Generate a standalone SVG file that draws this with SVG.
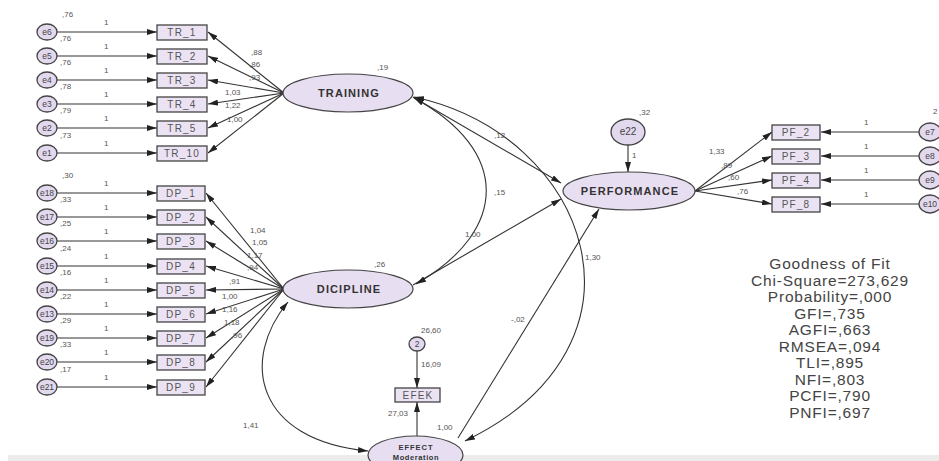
<svg xmlns="http://www.w3.org/2000/svg" width="939" height="461" viewBox="0 0 939 461">
<defs>
<marker id="ah" viewBox="0 0 10 6" refX="10" refY="3" markerWidth="10" markerHeight="6" markerUnits="userSpaceOnUse" orient="auto-start-reverse"><path d="M0,0 L10,3 L0,6 z" fill="#222"/></marker>
</defs>
<style>
.lat{fill:#e8def2;stroke:#444;stroke-width:1.2}
.box{fill:#ebe3f3;stroke:#444;stroke-width:1.3}
.err{fill:#e2d9ee;stroke:#444;stroke-width:1.3}
.ln{stroke:#333;stroke-width:1.1;fill:none;marker-end:url(#ah)}
.dl{stroke:#333;stroke-width:1.1;fill:none;marker-end:url(#ah);marker-start:url(#ah)}
.lt{font-family:"Liberation Sans",Arial,sans-serif;font-weight:bold;font-size:11px;fill:#333;letter-spacing:1.1px;text-anchor:middle}
.bt{font-family:"Liberation Sans",Arial,sans-serif;font-size:10px;fill:#555;letter-spacing:1.2px;text-anchor:middle}
.et{font-family:"Liberation Sans",Arial,sans-serif;font-size:8.5px;fill:#444;text-anchor:middle}
.n{font-family:"Liberation Sans",Arial,sans-serif;font-size:8px;fill:#555}
.g{font-family:"Liberation Sans",Arial,sans-serif;font-size:15.5px;fill:#444;letter-spacing:0.8px;text-anchor:middle}
</style>
<rect width="939" height="461" fill="#fff"/>
<rect x="8" y="455" width="931" height="6" fill="#ececec"/>

<g id="connectors">
<path class="ln" d="M57,32 H157"/>
<path class="ln" d="M57,56 H157"/>
<path class="ln" d="M57,80 H157"/>
<path class="ln" d="M57,104 H157"/>
<path class="ln" d="M57,128 H157"/>
<path class="ln" d="M57,153 H157"/>
<path class="ln" d="M284,93 L208,32"/>
<path class="ln" d="M284,93 L208,56"/>
<path class="ln" d="M284,93 L208,80"/>
<path class="ln" d="M284,93 L208,104"/>
<path class="ln" d="M284,93 L208,128"/>
<path class="ln" d="M284,93 L208,153"/>
<path class="ln" d="M57,193 H157"/>
<path class="ln" d="M57,217 H157"/>
<path class="ln" d="M57,241 H157"/>
<path class="ln" d="M57,266 H157"/>
<path class="ln" d="M57,290 H157"/>
<path class="ln" d="M57,314 H157"/>
<path class="ln" d="M57,338 H157"/>
<path class="ln" d="M57,362 H157"/>
<path class="ln" d="M57,387 H157"/>
<path class="ln" d="M284,289 L206,193"/>
<path class="ln" d="M284,289 L206,217"/>
<path class="ln" d="M284,289 L206,241"/>
<path class="ln" d="M284,289 L206,266"/>
<path class="ln" d="M284,289 L206,290"/>
<path class="ln" d="M284,289 L206,314"/>
<path class="ln" d="M284,289 L206,338"/>
<path class="ln" d="M284,289 L206,362"/>
<path class="ln" d="M284,289 L206,387"/>
<path class="ln" d="M413,97 L561,183"/>
<path class="ln" d="M413,285 L561,199"/>
<path class="ln" d="M458,438 L599,209"/>
<path class="dl" d="M414,98 C510,150 510,230 416,284"/>
<path class="dl" d="M414,97 C590,135 665,345 465,441"/>
<path class="dl" d="M288,302 C240,360 255,440 368,451"/>
<path class="ln" d="M628,145 L628,172"/>
<path class="ln" d="M417,351 L417,388"/>
<path class="ln" d="M417,436 L417,402"/>
<path class="ln" d="M695,191 L772,132"/>
<path class="ln" d="M695,191 L772,156"/>
<path class="ln" d="M695,191 L772,180"/>
<path class="ln" d="M695,191 L772,204"/>
<path class="ln" d="M919,132 H821"/>
<path class="ln" d="M919,156 H821"/>
<path class="ln" d="M919,180 H821"/>
<path class="ln" d="M919,204 H821"/>
</g>

<g id="path-labels">
<text class="n" x="104" y="25">1</text>
<text class="n" x="104" y="49">1</text>
<text class="n" x="104" y="73">1</text>
<text class="n" x="104" y="97">1</text>
<text class="n" x="104" y="121">1</text>
<text class="n" x="104" y="146">1</text>
<text class="n" x="104" y="186">1</text>
<text class="n" x="104" y="210">1</text>
<text class="n" x="104" y="234">1</text>
<text class="n" x="104" y="259">1</text>
<text class="n" x="104" y="283">1</text>
<text class="n" x="104" y="307">1</text>
<text class="n" x="104" y="331">1</text>
<text class="n" x="104" y="355">1</text>
<text class="n" x="104" y="380">1</text>
<text class="n" x="62" y="17">,76</text>
<text class="n" x="60" y="41">,76</text>
<text class="n" x="60" y="65">,76</text>
<text class="n" x="60" y="89">,78</text>
<text class="n" x="60" y="113">,79</text>
<text class="n" x="60" y="138">,73</text>
<text class="n" x="62" y="178">,30</text>
<text class="n" x="60" y="202">,33</text>
<text class="n" x="60" y="226">,25</text>
<text class="n" x="60" y="251">,24</text>
<text class="n" x="60" y="275">,16</text>
<text class="n" x="60" y="299">,22</text>
<text class="n" x="60" y="323">,29</text>
<text class="n" x="60" y="347">,33</text>
<text class="n" x="60" y="372">,17</text>
<text class="n" x="251" y="55">,88</text>
<text class="n" x="249" y="67">,86</text>
<text class="n" x="249" y="80">,93</text>
<text class="n" x="225" y="95">1,03</text>
<text class="n" x="225" y="108">1,22</text>
<text class="n" x="227" y="122">1,00</text>
<text class="n" x="250" y="233">1,04</text>
<text class="n" x="252" y="245">1,05</text>
<text class="n" x="247" y="258">1,17</text>
<text class="n" x="247" y="270">,94</text>
<text class="n" x="229" y="284">,91</text>
<text class="n" x="222" y="299">1,00</text>
<text class="n" x="222" y="312">1,16</text>
<text class="n" x="224" y="325">1,18</text>
<text class="n" x="231" y="338">,96</text>
<text class="n" x="377" y="70">,19</text>
<text class="n" x="374" y="267">,26</text>
<text class="n" x="494" y="138">,12</text>
<text class="n" x="494" y="195">,15</text>
<text class="n" x="465" y="237">1,00</text>
<text class="n" x="585" y="260">1,30</text>
<text class="n" x="511" y="322">-,02</text>
<text class="n" x="243" y="428">1,41</text>
<text class="n" x="437" y="430">1,00</text>
<text class="n" x="388" y="416">27,03</text>
<text class="n" x="421" y="367">16,09</text>
<text class="n" x="421" y="333">26,60</text>
<text class="n" x="639" y="115">,32</text>
<text class="n" x="632" y="158">1</text>
<text class="n" x="709" y="154">1,33</text>
<text class="n" x="721" y="168">,89</text>
<text class="n" x="728" y="180">,60</text>
<text class="n" x="737" y="194">,76</text>
<text class="n" x="864" y="125">1</text>
<text class="n" x="864" y="149">1</text>
<text class="n" x="864" y="173">1</text>
<text class="n" x="864" y="197">1</text>
<text class="n" x="933" y="114">2</text>
</g>

<g id="e6"><ellipse class="err" cx="47" cy="32" rx="10" ry="8"/><text class="et" x="47" y="35">e6</text></g>
<g id="e5"><ellipse class="err" cx="47" cy="56" rx="10" ry="8"/><text class="et" x="47" y="59">e5</text></g>
<g id="e4"><ellipse class="err" cx="47" cy="80" rx="10" ry="8"/><text class="et" x="47" y="83">e4</text></g>
<g id="e3"><ellipse class="err" cx="47" cy="104" rx="10" ry="8"/><text class="et" x="47" y="107">e3</text></g>
<g id="e2"><ellipse class="err" cx="47" cy="128" rx="10" ry="8"/><text class="et" x="47" y="131">e2</text></g>
<g id="e1"><ellipse class="err" cx="47" cy="153" rx="10" ry="8"/><text class="et" x="47" y="156">e1</text></g>
<g id="e18"><ellipse class="err" cx="47" cy="193" rx="10" ry="8"/><text class="et" x="47" y="196">e18</text></g>
<g id="e17"><ellipse class="err" cx="47" cy="217" rx="10" ry="8"/><text class="et" x="47" y="220">e17</text></g>
<g id="e16"><ellipse class="err" cx="47" cy="241" rx="10" ry="8"/><text class="et" x="47" y="244">e16</text></g>
<g id="e15"><ellipse class="err" cx="47" cy="266" rx="10" ry="8"/><text class="et" x="47" y="269">e15</text></g>
<g id="e14"><ellipse class="err" cx="47" cy="290" rx="10" ry="8"/><text class="et" x="47" y="293">e14</text></g>
<g id="e13"><ellipse class="err" cx="47" cy="314" rx="10" ry="8"/><text class="et" x="47" y="317">e13</text></g>
<g id="e19"><ellipse class="err" cx="47" cy="338" rx="10" ry="8"/><text class="et" x="47" y="341">e19</text></g>
<g id="e20"><ellipse class="err" cx="47" cy="362" rx="10" ry="8"/><text class="et" x="47" y="365">e20</text></g>
<g id="e21"><ellipse class="err" cx="47" cy="387" rx="10" ry="8"/><text class="et" x="47" y="390">e21</text></g>

<g id="TR_1"><rect class="box" x="157" y="25" width="50" height="15"/><text class="bt" x="182" y="36">TR_1</text></g>
<g id="TR_2"><rect class="box" x="157" y="49" width="50" height="15"/><text class="bt" x="182" y="60">TR_2</text></g>
<g id="TR_3"><rect class="box" x="157" y="73" width="50" height="15"/><text class="bt" x="182" y="84">TR_3</text></g>
<g id="TR_4"><rect class="box" x="157" y="97" width="50" height="15"/><text class="bt" x="182" y="108">TR_4</text></g>
<g id="TR_5"><rect class="box" x="157" y="121" width="50" height="15"/><text class="bt" x="182" y="132">TR_5</text></g>
<g id="TR_10"><rect class="box" x="157" y="146" width="50" height="15"/><text class="bt" x="182" y="157">TR_10</text></g>

<g id="DP_1"><rect class="box" x="157" y="186" width="48" height="15"/><text class="bt" x="181" y="197">DP_1</text></g>
<g id="DP_2"><rect class="box" x="157" y="210" width="48" height="15"/><text class="bt" x="181" y="221">DP_2</text></g>
<g id="DP_3"><rect class="box" x="157" y="234" width="48" height="15"/><text class="bt" x="181" y="245">DP_3</text></g>
<g id="DP_4"><rect class="box" x="157" y="259" width="48" height="15"/><text class="bt" x="181" y="270">DP_4</text></g>
<g id="DP_5"><rect class="box" x="157" y="283" width="48" height="15"/><text class="bt" x="181" y="294">DP_5</text></g>
<g id="DP_6"><rect class="box" x="157" y="307" width="48" height="15"/><text class="bt" x="181" y="318">DP_6</text></g>
<g id="DP_7"><rect class="box" x="157" y="331" width="48" height="15"/><text class="bt" x="181" y="342">DP_7</text></g>
<g id="DP_8"><rect class="box" x="157" y="355" width="48" height="15"/><text class="bt" x="181" y="366">DP_8</text></g>
<g id="DP_9"><rect class="box" x="157" y="380" width="48" height="15"/><text class="bt" x="181" y="391">DP_9</text></g>

<g id="TRAINING"><ellipse class="lat" cx="348" cy="93" rx="65" ry="19"/><text class="lt" x="349" y="97">TRAINING</text></g>
<g id="DICIPLINE"><ellipse class="lat" cx="348" cy="289" rx="65" ry="19"/><text class="lt" x="349" y="293">DICIPLINE</text></g>
<g id="PERFORMANCE"><ellipse class="lat" cx="629" cy="191" rx="66" ry="19"/><text class="lt" x="630" y="195">PERFORMANCE</text></g>
<g id="e22"><ellipse class="err" cx="628" cy="132" rx="17" ry="13"/><text class="et" x="628" y="135" style="font-size:10px">e22</text></g>

<g id="PF_2"><rect class="box" x="772" y="125" width="48" height="15"/><text class="bt" x="796" y="136">PF_2</text></g>
<g id="PF_3"><rect class="box" x="772" y="149" width="48" height="15"/><text class="bt" x="796" y="160">PF_3</text></g>
<g id="PF_4"><rect class="box" x="772" y="173" width="48" height="15"/><text class="bt" x="796" y="184">PF_4</text></g>
<g id="PF_8"><rect class="box" x="772" y="197" width="48" height="15"/><text class="bt" x="796" y="208">PF_8</text></g>

<g id="e7"><ellipse class="err" cx="930" cy="132" rx="11" ry="9"/><text class="et" x="930" y="135">e7</text></g>
<g id="e8"><ellipse class="err" cx="930" cy="156" rx="11" ry="9"/><text class="et" x="930" y="159">e8</text></g>
<g id="e9"><ellipse class="err" cx="930" cy="180" rx="11" ry="9"/><text class="et" x="930" y="183">e9</text></g>
<g id="e10"><ellipse class="err" cx="930" cy="204" rx="11" ry="9"/><text class="et" x="930" y="207">e10</text></g>

<g id="z"><ellipse class="err" cx="417" cy="344" rx="8" ry="7"/><text class="et" x="417" y="347">2</text></g>
<g id="EFEK"><rect class="box" x="395" y="388" width="45" height="14"/><text class="bt" x="418" y="399">EFEK</text></g>
<g id="EFFECT"><ellipse class="lat" cx="415.5" cy="455" rx="47.5" ry="19"/><text class="lt" x="416" y="450" style="font-size:7.5px;letter-spacing:1px">EFFECT</text><text class="lt" x="416" y="460" style="font-size:7.5px;letter-spacing:0.6px">Moderation</text></g>

<g id="fit">
<text class="g" x="830" y="269">Goodness of Fit</text>
<text class="g" x="830" y="285.5">Chi-Square=273,629</text>
<text class="g" x="830" y="302">Probability=,000</text>
<text class="g" x="830" y="318.5">GFI=,735</text>
<text class="g" x="830" y="335">AGFI=,663</text>
<text class="g" x="830" y="351.5">RMSEA=,094</text>
<text class="g" x="830" y="368">TLI=,895</text>
<text class="g" x="830" y="384.5">NFI=,803</text>
<text class="g" x="830" y="401">PCFI=,790</text>
<text class="g" x="830" y="417.5">PNFI=,697</text>
</g>
</svg>
